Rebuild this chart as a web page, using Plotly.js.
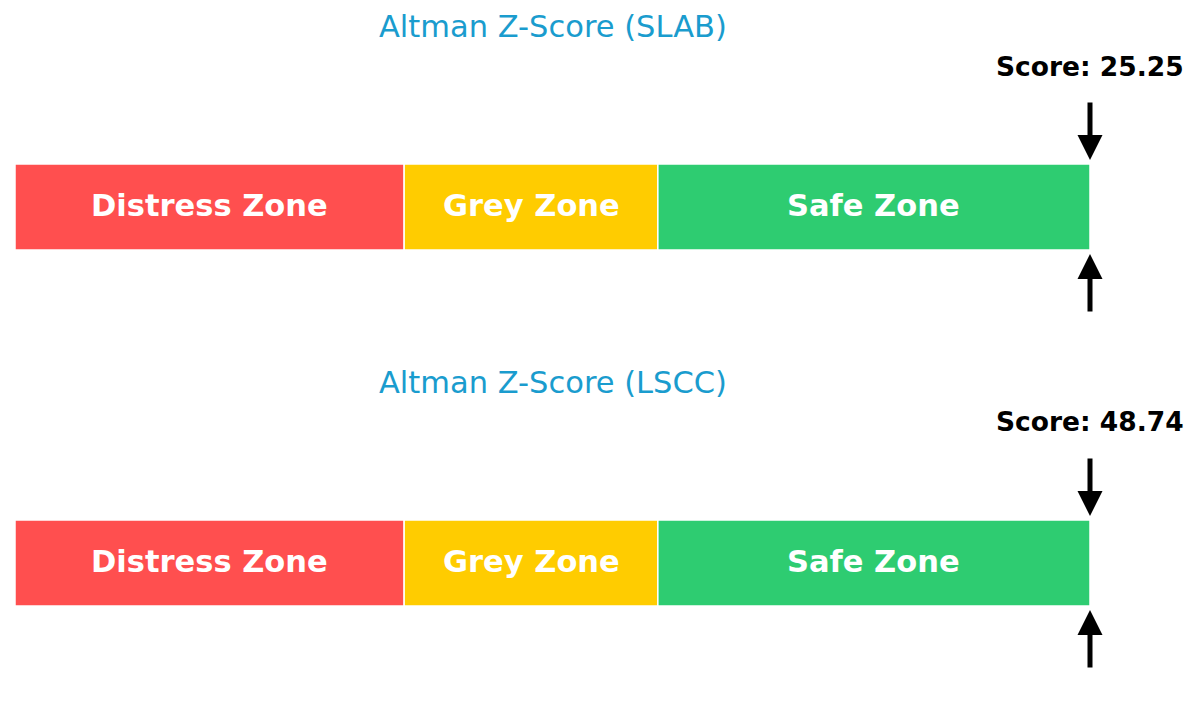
<!DOCTYPE html>
<html>
<head>
<meta charset="utf-8">
<script src="https://cdn.plot.ly/plotly-3.0.1.min.js"></script>
<style>
  html, body { margin: 0; padding: 0; background: #fff; }
  #chart { width: 1200px; height: 712px; }
</style>
</head>
<body>
<div id="chart"></div>
<script>
// zone data
var zoneNames = ['Distress Zone', 'Grey Zone', 'Safe Zone'];
var zoneStarts = [0, 1.81, 2.99];
var zoneWidths = [1.81, 1.18, 2.01];
var zoneColors = ['#ff4f4f', '#ffcc00', '#2ecc71'];

var tickers = ['SLAB', 'LSCC'];
var scores = [25.25, 48.74];

var scaleMax = 5;  // score marker is capped at the end of the safe zone

var H = 712;
function py(px) { return 1 - px / H; }  // pixel row -> paper y

var data = [];
var annotations = [];

tickers.forEach(function (tk, i) {
    var xa = i === 0 ? 'x' : 'x2';
    var ya = i === 0 ? 'y' : 'y2';
    var off = i * 356;

    zoneNames.forEach(function (name, j) {
        data.push({
            type: 'bar',
            orientation: 'h',
            y: [0],
            x: [zoneWidths[j]],
            base: [zoneStarts[j]],
            width: 1,
            marker: {color: zoneColors[j], line: {color: '#ffffff', width: 1.5}},
            hoverinfo: 'skip',
            showlegend: false,
            xaxis: xa,
            yaxis: ya
        });
        // zone label, centred on the zone
        annotations.push({
            xref: xa, yref: 'paper', x: zoneStarts[j] + zoneWidths[j] / 2, y: py(205 + off),
            yanchor: 'middle',
            text: '<b>' + name + '</b>',
            showarrow: false,
            font: {family: 'DejaVu Sans', size: 30.5, color: '#ffffff'}
        });
    });

    var sx = Math.min(scores[i], scaleMax);

    // title
    annotations.push({
        xref: xa, yref: 'paper', x: scaleMax / 2, y: py(27 + off), yanchor: 'middle',
        text: 'Altman Z-Score (' + tk + ')',
        showarrow: false,
        font: {family: 'DejaVu Sans', size: 30.5, color: '#1a9cce'}
    });
    // score label
    annotations.push({
        xref: xa, yref: 'paper', x: sx, y: py(66 + off), yanchor: 'middle',
        text: '<b>Score: ' + scores[i].toFixed(2) + '</b>',
        showarrow: false,
        font: {family: 'DejaVu Sans', size: 26.5, color: '#000000'}
    });
    // arrow from above
    annotations.push({
        xref: xa, yref: 'paper', axref: 'pixel', ayref: 'pixel',
        x: sx, y: py(160 + off), ax: 0, ay: -59,
        text: '', showarrow: true,
        arrowhead: 2, arrowsize: 1, arrowwidth: 5, arrowcolor: '#000000'
    });
    // arrow from below
    annotations.push({
        xref: xa, yref: 'paper', axref: 'pixel', ayref: 'pixel',
        x: sx, y: py(254 + off), ax: 0, ay: 59,
        text: '', showarrow: true,
        arrowhead: 2, arrowsize: 1, arrowwidth: 5, arrowcolor: '#000000'
    });
});

var hidden = {visible: false, fixedrange: true};

var layout = {
    width: 1200,
    height: 712,
    margin: {l: 15, r: 110, t: 0, b: 0},
    paper_bgcolor: '#ffffff',
    plot_bgcolor: '#ffffff',
    barmode: 'overlay',
    xaxis: Object.assign({range: [0, scaleMax], anchor: 'y'}, hidden),
    yaxis: Object.assign({range: [-0.5, 0.5], domain: [py(250), py(164)], anchor: 'x'}, hidden),
    xaxis2: Object.assign({range: [0, scaleMax], anchor: 'y2'}, hidden),
    yaxis2: Object.assign({range: [-0.5, 0.5], domain: [py(606), py(520)], anchor: 'x2'}, hidden),
    annotations: annotations
};

Plotly.newPlot('chart', data, layout, {displayModeBar: false, staticPlot: true});
</script>
</body>
</html>
